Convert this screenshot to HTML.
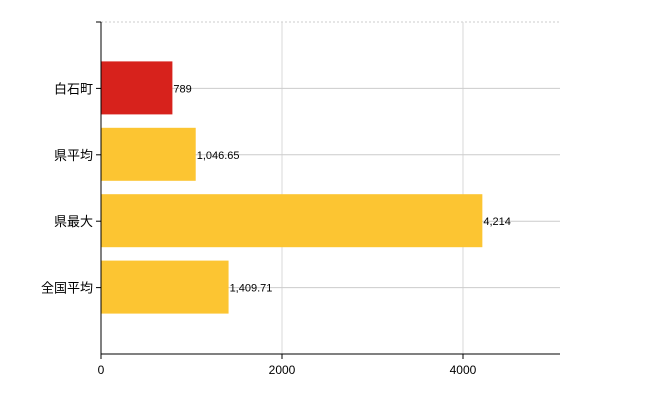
<!DOCTYPE html>
<html><head><meta charset="utf-8"><style>
body{margin:0;background:#fff;}
svg{font-family:"Liberation Sans","Noto Sans CJK JP",sans-serif;}
</style></head><body>
<svg id="chart" width="650" height="400"></svg>
<script>
const categories=["白石町","県平均","県最大","全国平均"];
const values=[789,1046.65,4214,1409.71];
const valueLabels=["789","1,046.65","4,214","1,409.71"];
const xTicks=[0,2000,4000];
const ns="http://www.w3.org/2000/svg";
const svg=document.getElementById("chart");
const x0=101,x1=560,yTop=22,yBot=354,xMax=5072;
const xs=v=>x0+v/xMax*(x1-x0);
const band=(yBot-yTop)/5;
const yc=i=>yTop+band*(i+1);
function mk(t,a){const e=document.createElementNS(ns,t);for(const k in a)e.setAttribute(k,a[k]);svg.appendChild(e);return e;}
// top dashed line
let g=mk("line",{x1:x0,x2:x1,y1:yTop,y2:yTop,stroke:"#ccc","stroke-dasharray":"2,2"});


xTicks.forEach(t=>{
 if(t>0){const l=mk("line",{x1:xs(t),x2:xs(t),y1:yTop,y2:yBot,stroke:"#d8d8d8"});
 
 }
 const tk=mk("line",{x1:xs(t),x2:xs(t),y1:yBot,y2:yBot+5,stroke:"#000"});
 
 
 const tx=mk("text",{x:xs(t),y:yBot+20,"text-anchor":"middle","font-size":"12",fill:"#000"});
 tx.textContent=t;
 
 
});
categories.forEach((c,i)=>{
 const y=yc(i);
 const gl=mk("line",{x1:x0,x2:x1,y1:y,y2:y,stroke:"#ccc"});
 
 
 const b=mk("rect",{x:x0,y:y-27,width:xs(values[i])-x0,height:53,fill:i==0?"#d7221c":"#fcc532"});
 
 
 const vl=mk("text",{x:xs(values[i])+1,y:y+4,"font-size":"11",fill:"#000"});
 vl.textContent=valueLabels[i];
 
 
 const tk=mk("line",{x1:x0-5,x2:x0,y1:y,y2:y,stroke:"#000"});
 
 
 const cl=mk("text",{x:x0-8,y:y+5,"text-anchor":"end","font-size":"13",fill:"#000"});
 cl.textContent=c;
 
 
});
const t0=mk("line",{x1:x0-5,x2:x0,y1:yTop,y2:yTop,stroke:"#000"});


const ya=mk("line",{x1:x0,x2:x0,y1:yTop,y2:yBot,stroke:"#000"});


const xa=mk("line",{x1:x0,x2:x1,y1:yBot,y2:yBot,stroke:"#000"});


</script>
</body></html>
